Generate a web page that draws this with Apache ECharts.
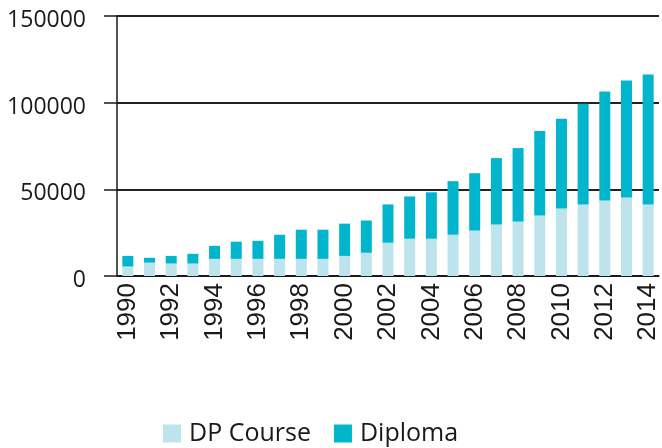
<!DOCTYPE html>
<html>
<head>
<meta charset="utf-8">
<script src="https://cdn.jsdelivr.net/npm/echarts@6/dist/echarts.min.js"></script>
<style>
  html, body { margin: 0; padding: 0; background: #fff; }
  #chart { width: 662px; height: 448px; }
</style>
</head>
<body>
<div id="chart"></div>
<script>
const years = ['1990', '1991', '1992', '1993', '1994', '1995', '1996', '1997', '1998', '1999',
  '2000', '2001', '2002', '2003', '2004', '2005', '2006', '2007', '2008', '2009',
  '2010', '2011', '2012', '2013', '2014']
// DP Course (lower part of each bar)
const dpCourse = [5500, 7700, 7200, 7200, 9900, 9900, 9900, 9900, 9900, 9900,
  11600, 13400, 19200, 21500, 21500, 23800, 26200, 29700, 31400, 34900,
  39000, 41300, 43600, 45300, 41300]
// Diploma (stacked on top)
const diploma = [6100, 2800, 4400, 5600, 7500, 9900, 10400, 13900, 16800, 16800,
  18600, 18600, 22100, 24400, 26800, 30900, 33100, 38300, 42400, 48800,
  51700, 58100, 62800, 67500, 75000]

const chart = echarts.init(document.getElementById('chart'))

chart.setOption({
  animation: false,
  grid: { left: 117, right: 3, top: 16, bottom: 172 },
  legend: {
    bottom: -3,
    left: 158,
    itemWidth: 18,
    itemHeight: 18,
    itemGap: 23,
    icon: 'rect',
    textStyle: { fontFamily: 'Open Sans', fontSize: 25, color: '#1a1a1a', padding: [0, 0, 0, 3] },
    data: ['DP Course', 'Diploma']
  },
  xAxis: {
    type: 'category',
    data: years,
    axisLine: { lineStyle: { color: '#1a1a1a', width: 1.5 } },
    axisTick: { show: false },
    axisLabel: {
      interval: 1,
      rotate: 90,
      margin: 7,
      fontFamily: 'Liberation Sans',
      fontSize: 26,
      color: '#1a1a1a'
    }
  },
  yAxis: {
    type: 'value',
    min: 0,
    max: 150000,
    interval: 50000,
    axisLine: { show: true, lineStyle: { color: '#1a1a1a', width: 1.5 } },
    axisTick: { show: true, length: 13, lineStyle: { color: '#1a1a1a', width: 1.5 } },
    splitLine: { lineStyle: { color: '#222', width: 2 } },
    axisLabel: {
      margin: 31,
      verticalAlign: 'top',
      lineHeight: 9,
      fontFamily: 'Open Sans',
      fontSize: 23,
      color: '#1a1a1a',
      formatter: (v) => String(v)
    }
  },
  series: [
    {
      name: 'DP Course',
      type: 'bar',
      stack: 'total',
      barWidth: 11,
      itemStyle: { color: '#bde4ec' },
      data: dpCourse
    },
    {
      name: 'Diploma',
      type: 'bar',
      stack: 'total',
      barWidth: 11,
      itemStyle: { color: '#00b5cc' },
      data: diploma
    }
  ]
})
</script>
</body>
</html>
